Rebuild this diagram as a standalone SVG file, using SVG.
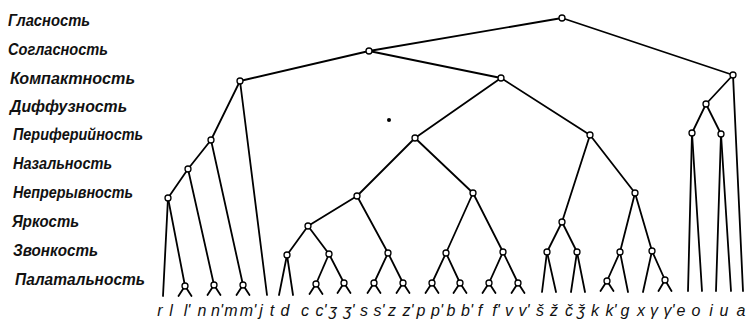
<svg xmlns="http://www.w3.org/2000/svg" width="747" height="324" viewBox="0 0 747 324">
<style>
.e{stroke:#000;stroke-width:1.8;fill:none;stroke-linecap:round}
.n{fill:#fff;stroke:#000;stroke-width:1.3}
.lab{font-family:"Liberation Sans",Arial,sans-serif;font-style:italic;font-weight:bold;font-size:16px;fill:#111}
.lf{font-family:"Liberation Sans","DejaVu Sans",sans-serif;font-style:italic;font-size:16px;fill:#111;text-anchor:middle}
</style>
<rect width="747" height="324" fill="#fff"/>
<g id="feature-labels" class="lab">
<text x="8" y="26" textLength="82" lengthAdjust="spacingAndGlyphs">Гласность</text>
<text x="8" y="55" textLength="100" lengthAdjust="spacingAndGlyphs">Согласность</text>
<text x="10" y="84" textLength="125" lengthAdjust="spacingAndGlyphs">Компактность</text>
<text x="10" y="112" textLength="117" lengthAdjust="spacingAndGlyphs">Диффузность</text>
<text x="13" y="140" textLength="130" lengthAdjust="spacingAndGlyphs">Периферийность</text>
<text x="13" y="169" textLength="99" lengthAdjust="spacingAndGlyphs">Назальность</text>
<text x="13" y="198" textLength="120" lengthAdjust="spacingAndGlyphs">Непрерывность</text>
<text x="12" y="227" textLength="67" lengthAdjust="spacingAndGlyphs">Яркость</text>
<text x="13" y="256" textLength="85" lengthAdjust="spacingAndGlyphs">Звонкость</text>
<text x="15" y="285" textLength="130" lengthAdjust="spacingAndGlyphs">Палатальность</text>
</g>
<g id="connectors" class="e">
<line x1="562" y1="18" x2="369" y2="51"/>
<line x1="562" y1="18" x2="733" y2="75"/>
<line x1="369" y1="51" x2="240" y2="81"/>
<line x1="369" y1="51" x2="501" y2="78"/>
<line x1="733" y1="75" x2="706" y2="104"/>
<line x1="733" y1="75" x2="743" y2="291"/>
<line x1="706" y1="104" x2="692" y2="133"/>
<line x1="706" y1="104" x2="721" y2="134"/>
<line x1="692" y1="133" x2="688" y2="291"/>
<line x1="692" y1="133" x2="702" y2="291"/>
<line x1="721" y1="134" x2="716" y2="291"/>
<line x1="721" y1="134" x2="731" y2="291"/>
<line x1="240" y1="81" x2="211" y2="140"/>
<line x1="240" y1="81" x2="267" y2="295"/>
<line x1="211" y1="140" x2="188" y2="169"/>
<line x1="211" y1="140" x2="243" y2="285"/>
<line x1="188" y1="169" x2="168" y2="198"/>
<line x1="188" y1="169" x2="214" y2="285"/>
<line x1="168" y1="198" x2="163" y2="296"/>
<line x1="168" y1="198" x2="185" y2="286"/>
<line x1="501" y1="78" x2="415" y2="138"/>
<line x1="501" y1="78" x2="590" y2="135"/>
<line x1="415" y1="138" x2="357" y2="196"/>
<line x1="415" y1="138" x2="473" y2="193"/>
<line x1="357" y1="196" x2="308" y2="226"/>
<line x1="357" y1="196" x2="388" y2="253"/>
<line x1="308" y1="226" x2="287" y2="255"/>
<line x1="308" y1="226" x2="329" y2="254"/>
<line x1="287" y1="255" x2="279" y2="295"/>
<line x1="287" y1="255" x2="293" y2="295"/>
<line x1="329" y1="254" x2="316" y2="284"/>
<line x1="329" y1="254" x2="344" y2="283"/>
<line x1="388" y1="253" x2="374" y2="283"/>
<line x1="388" y1="253" x2="403" y2="283"/>
<line x1="473" y1="193" x2="446" y2="253"/>
<line x1="473" y1="193" x2="503" y2="252"/>
<line x1="446" y1="253" x2="432" y2="283"/>
<line x1="446" y1="253" x2="460" y2="283"/>
<line x1="503" y1="252" x2="489" y2="283"/>
<line x1="503" y1="252" x2="518" y2="283"/>
<line x1="590" y1="135" x2="562" y2="222"/>
<line x1="590" y1="135" x2="635" y2="193"/>
<line x1="562" y1="222" x2="547" y2="252"/>
<line x1="562" y1="222" x2="577" y2="252"/>
<line x1="547" y1="252" x2="542" y2="292"/>
<line x1="547" y1="252" x2="556" y2="292"/>
<line x1="577" y1="252" x2="571" y2="292"/>
<line x1="577" y1="252" x2="585" y2="292"/>
<line x1="635" y1="193" x2="620" y2="252"/>
<line x1="635" y1="193" x2="652" y2="251"/>
<line x1="620" y1="252" x2="607" y2="281"/>
<line x1="620" y1="252" x2="628" y2="292"/>
<line x1="652" y1="251" x2="643" y2="292"/>
<line x1="652" y1="251" x2="665" y2="280"/>
<path d="M178.5 296 L185 286 L191.5 296 M207.5 295 L214 285 L220.5 295 M236.5 295 L243 285 L249.5 295 M309.5 294 L316 284 L322.5 294 M337.5 293 L344 283 L350.5 293 M367.5 293 L374 283 L380.5 293 M396.5 293 L403 283 L409.5 293 M425.5 293 L432 283 L438.5 293 M453.5 293 L460 283 L466.5 293 M482.5 293 L489 283 L495.5 293 M511.5 293 L518 283 L524.5 293 M600.5 291 L607 281 L613.5 291 M658.5 291 L665 280 L671.5 291"/>
</g>
<g id="nodes" class="n">
<g id="n-root"><circle cx="562" cy="18" r="3"/></g>
<g id="n-cons"><circle cx="369" cy="51" r="3"/></g>
<g id="n-v0"><circle cx="733" cy="75" r="3"/></g>
<g id="n-v1"><circle cx="706" cy="104" r="3"/></g>
<g id="n-v2"><circle cx="692" cy="133" r="3"/></g>
<g id="n-v3"><circle cx="721" cy="134" r="3"/></g>
<g id="n-c1"><circle cx="240" cy="81" r="3"/></g>
<g id="n-c2"><circle cx="501" cy="78" r="3"/></g>
<g id="n-c3"><circle cx="211" cy="140" r="3"/></g>
<g id="n-c4"><circle cx="188" cy="169" r="3"/></g>
<g id="n-c5"><circle cx="168" cy="198" r="3"/></g>
<g id="n-ll"><circle cx="185" cy="286" r="3"/></g>
<g id="n-nn"><circle cx="214" cy="285" r="3"/></g>
<g id="n-mm"><circle cx="243" cy="285" r="3"/></g>
<g id="n-c6"><circle cx="415" cy="138" r="3"/></g>
<g id="n-c7"><circle cx="590" cy="135" r="3"/></g>
<g id="n-c8"><circle cx="357" cy="196" r="3"/></g>
<g id="n-c9"><circle cx="473" cy="193" r="3"/></g>
<g id="n-c10"><circle cx="308" cy="226" r="3"/></g>
<g id="n-c11"><circle cx="388" cy="253" r="3"/></g>
<g id="n-c12"><circle cx="287" cy="255" r="3"/></g>
<g id="n-c13"><circle cx="329" cy="254" r="3"/></g>
<g id="n-cc"><circle cx="316" cy="284" r="3"/></g>
<g id="n-dzdz"><circle cx="344" cy="283" r="3"/></g>
<g id="n-ss"><circle cx="374" cy="283" r="3"/></g>
<g id="n-zz"><circle cx="403" cy="283" r="3"/></g>
<g id="n-c14"><circle cx="446" cy="253" r="3"/></g>
<g id="n-c15"><circle cx="503" cy="252" r="3"/></g>
<g id="n-pp"><circle cx="432" cy="283" r="3"/></g>
<g id="n-bb"><circle cx="460" cy="283" r="3"/></g>
<g id="n-ff"><circle cx="489" cy="283" r="3"/></g>
<g id="n-vv"><circle cx="518" cy="283" r="3"/></g>
<g id="n-c16"><circle cx="562" cy="222" r="3"/></g>
<g id="n-c17"><circle cx="635" cy="193" r="3"/></g>
<g id="n-c18"><circle cx="547" cy="252" r="3"/></g>
<g id="n-c19"><circle cx="577" cy="252" r="3"/></g>
<g id="n-c20"><circle cx="620" cy="252" r="3"/></g>
<g id="n-c21"><circle cx="652" cy="251" r="3"/></g>
<g id="n-kk"><circle cx="607" cy="281" r="3"/></g>
<g id="n-gg"><circle cx="665" cy="280" r="3"/></g>
</g>
<circle cx="389" cy="120" r="2" fill="#000"/>
<g id="phonemes" class="lf">
<text x="160" y="316">r</text>
<text x="171" y="316">l</text>
<text x="187" y="316">l'</text>
<text x="202" y="316">n</text>
<text x="217" y="316">n'</text>
<text x="231" y="316">m</text>
<text x="248" y="316">m'</text>
<text x="261" y="316">j</text>
<text x="272" y="316">t</text>
<text x="285" y="316">d</text>
<text x="305" y="316">c</text>
<text x="321" y="316">c'</text>
<text x="333" y="316">ʒ</text>
<text x="349" y="316">ʒ'</text>
<text x="364" y="316">s</text>
<text x="379" y="316">s'</text>
<text x="392" y="316">z</text>
<text x="408" y="316">z'</text>
<text x="421" y="316">p</text>
<text x="437" y="316">p'</text>
<text x="451" y="316">b</text>
<text x="467" y="316">b'</text>
<text x="480" y="316">f</text>
<text x="496" y="316">f'</text>
<text x="509" y="316">v</text>
<text x="524" y="316">v'</text>
<text x="540" y="316">š</text>
<text x="554" y="316">ž</text>
<text x="569" y="316">č</text>
<text x="581" y="316">ǯ</text>
<text x="595" y="316">k</text>
<text x="611" y="316">k'</text>
<text x="625" y="316">g</text>
<text x="641" y="316">x</text>
<text x="654" y="316">γ</text>
<text x="669" y="316">γ'</text>
<text x="681" y="316">e</text>
<text x="696" y="316">o</text>
<text x="711" y="316">i</text>
<text x="724" y="316">u</text>
<text x="741" y="316">a</text>
</g>
</svg>
